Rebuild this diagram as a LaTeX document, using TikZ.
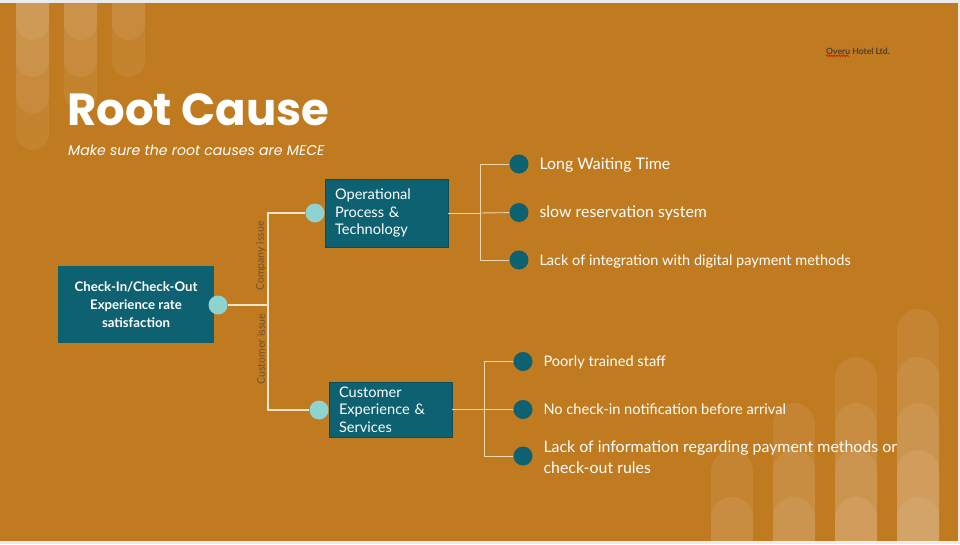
\documentclass[tikz,border=0pt]{standalone}
\usepackage{fontspec}
\setmainfont{Lato}
\newfontfamily\titlefont{Poppins}
\usetikzlibrary{positioning, decorations.pathmorphing}

\definecolor{slidebg}{RGB}{192,122,32}
\definecolor{boxteal}{RGB}{14,97,112}
\definecolor{dotlight}{RGB}{142,211,207}
\definecolor{linecream}{RGB}{246,230,200}
\definecolor{issuetext}{RGB}{112,82,52}
\definecolor{logotext}{RGB}{80,62,48}

\begin{document}
\begin{tikzpicture}[
			x=1pt, y=-1pt,
			pill/.style={fill=white, fill opacity=0.08, rounded corners=21pt},
			smallpill/.style={fill=white, fill opacity=0.07, rounded corners=16.5pt},
			rootbox/.style={rectangle, fill=boxteal, minimum width=156pt, minimum height=77pt, font=\fontsize{13.2}{18}\selectfont\bfseries, text=white, align=center},
			catbox/.style={rectangle, fill=boxteal, draw=boxteal!80!black, minimum width=123pt, inner sep=0pt, font=\fontsize{14.6}{17.5}\selectfont, text=white, align=left},
			lightdot/.style={circle, fill=dotlight, minimum size=19pt, inner sep=0pt},
			darkdot/.style={circle, fill=boxteal, minimum size=19pt, inner sep=0pt},
			leaf/.style={anchor=west, text=white, align=left},
			issue/.style={rotate=90, text=issuetext, font=\fontsize{10.5}{12}\selectfont},
			link/.style={draw=linecream, line width=1.3pt},
			sublink/.style={draw=linecream!85!slidebg, line width=0.9pt}
			]
			
			% Slide and frame
			\useasboundingbox (0,0) rectangle (960,544);
			\fill[white!92!black] (0,0) rectangle (960,544);
			\fill[slidebg] (0,3) rectangle (958,541);
			
			% Decorative pills
			\begin{scope}
				\clip (0,3) rectangle (958,541);
				\foreach \px/\pbot in {16/40, 16/77, 16/113, 16/150, 64/40, 64/77, 64/110, 112/40, 112/77}
					\fill[smallpill] (\px,-40) rectangle (\px+33,\pbot);
				\foreach \px/\ptop in {711/450, 711/497, 773/403, 773/450, 773/497, 835/357, 835/403, 835/450, 835/497, 897/309, 897/357, 897/403, 897/450, 897/497}
					\fill[pill] (\px,\ptop) rectangle (\px+42,600);
			\end{scope}
			
			% Title
			\node[anchor=base west, inner sep=0pt, text=white, font=\titlefont\bfseries\fontsize{45}{50}\selectfont] (title) at (67,125) {Root Cause};
			\node[anchor=base west, inner sep=0pt, text=white, font=\titlefont\itshape\fontsize{14.1}{17}\selectfont] (subtitle) at (68,155) {Make sure the root causes are MECE};
			\node[anchor=base west, inner sep=0pt, text=logotext, font=\bfseries\fontsize{8.6}{10}\selectfont] (logo) at (826,54) {Overu Hotel Ltd.};
			\draw[red!80!black, line width=0.5pt, decorate, decoration={snake, amplitude=0.7pt, segment length=2.5pt}] ([yshift=-1.8pt]logo.base west) -- ++(23,0);
			
			% Root and categories
			\node[rootbox] (root) at (136,304.5) {Check-In/Check-Out\\Experience rate\\satisfaction};
			\node[lightdot] (rootdot) at (218,305) {};
			
			\node[catbox, minimum height=68pt, text width=103pt] (op) at (386.5,213) {Operational\\Process \&\\Technology};
			\node[lightdot] (opdot) at (315,213) {};
			
			\node[catbox, minimum height=55pt, text width=103pt] (cust) at (390.5,409.5) {Customer\\Experience \&\\Services};
			\node[lightdot] (custdot) at (319,410) {};
			
			% Junctions
			\coordinate (jmain) at (268,305);
			\coordinate (jop) at (480,213);
			\coordinate (jcust) at (484,409.5);
			
			% Operational causes
			\node[darkdot] (d1) at (519,164) {};
			\node[darkdot] (d2) at (519,212.5) {};
			\node[darkdot] (d3) at (519,260) {};
			\node[leaf, font=\fontsize{15.9}{18}\selectfont] (l1) at (536,165.5) {Long Waiting Time};
			\node[leaf, font=\fontsize{15.9}{18}\selectfont] (l2) at (536,213.5) {slow reservation system};
			\node[leaf, font=\fontsize{14.5}{17}\selectfont] (l3) at (536,261) {Lack of integration with digital payment methods};
			
			% Customer causes
			\node[darkdot] (d4) at (523,361.5) {};
			\node[darkdot] (d5) at (523,409.5) {};
			\node[darkdot] (d6) at (523,456) {};
			\node[leaf, font=\fontsize{14.6}{17}\selectfont] (l4) at (540,362) {Poorly trained staff};
			\node[leaf, font=\fontsize{14.6}{17}\selectfont] (l5) at (540,409.5) {No check-in notification before arrival};
			\node[leaf, font=\fontsize{15.9}{21.5}\selectfont] (l6) at (540,457) {Lack of information regarding payment methods or\\check-out rules};
			
			% Connectors
			\draw[link] (rootdot) -- (jmain);
			\draw[link] (jmain) |- (opdot);
			\draw[link] (jmain) |- (custdot);
			\draw[sublink] (op.east) -- (jop);
			\draw[sublink] (jop) |- (d1);
			\draw[sublink] (jop) -- (d2);
			\draw[sublink] (jop) |- (d3);
			\draw[sublink] (cust.east) -- (jcust);
			\draw[sublink] (jcust) |- (d4);
			\draw[sublink] (jcust) -- (d5);
			\draw[sublink] (jcust) |- (d6);
			
			% Branch labels
			\node[issue] (compissue) at (261,256) {Company issue};
			\node[issue] (custissue) at (261,349) {Customer issue};
			
		\end{tikzpicture}
\end{document}
